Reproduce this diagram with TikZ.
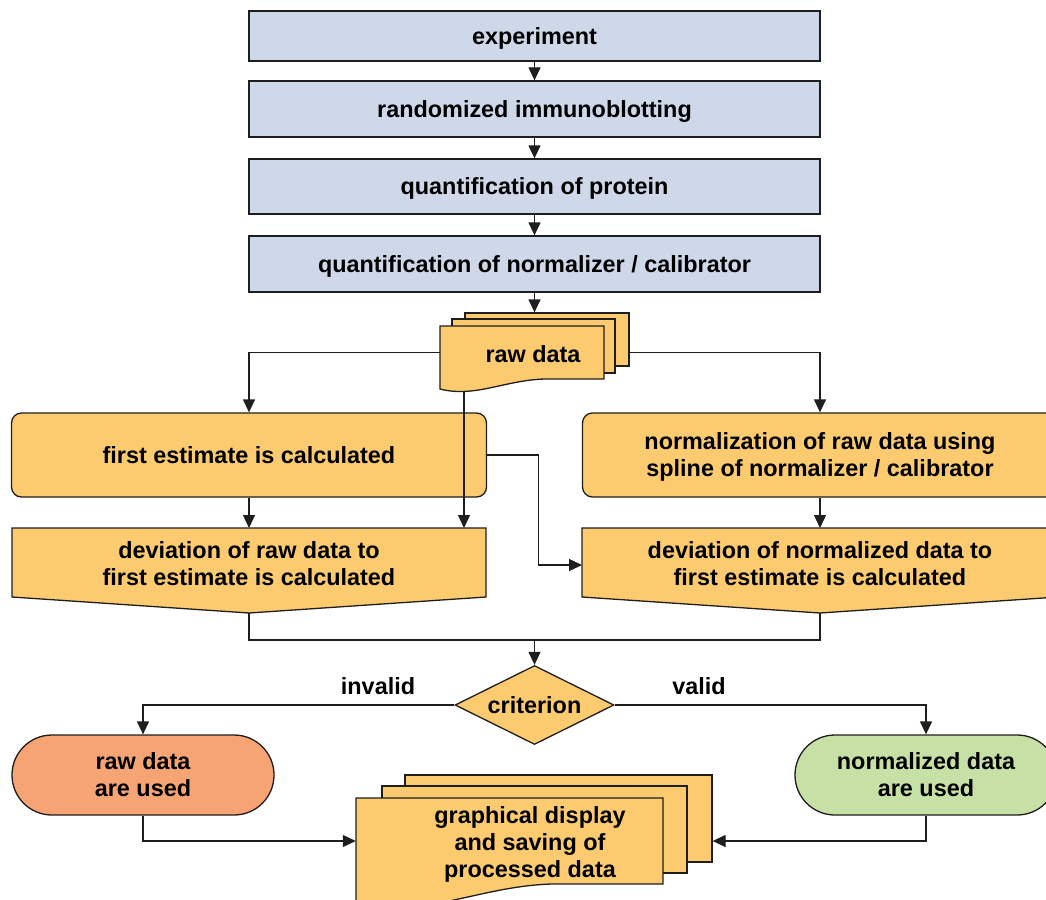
\documentclass[tikz,border=0pt]{standalone}
\usepackage{fontspec}
\setmainfont{Liberation Sans}
\usetikzlibrary{arrows.meta,shapes.geometric,calc}
\definecolor{cblue}{RGB}{207,216,233}
\definecolor{cyel}{RGB}{252,203,111}
\definecolor{csalmon}{RGB}{246,164,116}
\definecolor{cgreen}{RGB}{198,224,166}
\definecolor{cline}{RGB}{30,30,30}
\tikzset{
  base/.style={draw=cline, line width=1.3pt, inner sep=0pt, align=center, text depth=0pt,
    font=\fontsize{23.4}{27}\selectfont\bfseries},
  txt/.style={inner sep=0pt, align=center, text depth=0pt, font=\fontsize{23.4}{27}\selectfont\bfseries},
  bluebox/.style={base, fill=cblue, minimum width=571pt},
  ybox/.style={base, fill=cyel, rounded corners=10pt, minimum width=475pt, minimum height=84pt},
  page/.style={base, fill=cyel},
  docpath/.style={draw=cline, line width=1.3pt, fill=cyel},
  geom/.style={inner sep=0pt},
  term/.style={base, rounded corners=39.9pt, minimum width=262pt, minimum height=80pt},
  arr/.style={draw=cline, line width=1.3pt, -{Triangle[length=13pt,width=12pt]}},
  conn/.style={draw=cline, line width=1.3pt}
}
\begin{document}
\begin{tikzpicture}[x=1pt,y=-1pt]
\useasboundingbox (0,0) rectangle (1046,899);

% top chain
\node[bluebox, minimum height=50pt] (b1) at (534.5,36) {experiment};
\node[bluebox, minimum height=56pt] (b2) at (534.5,109) {randomized immunoblotting};
\node[bluebox, minimum height=55pt] (b3) at (534.5,186.5) {quantification of protein};
\node[bluebox, minimum height=56pt] (b4) at (534.5,264) {quantification of normalizer / calibrator};
\draw[arr] (b1.south) -- (b2.north);
\draw[arr] (b2.south) -- (b3.north);
\draw[arr] (b3.south) -- (b4.north);

% raw data multi-document
\node[page, minimum width=164pt, minimum height=53pt] (rawback) at (547,339.5) {};
\node[page, minimum width=163pt, minimum height=54pt] (rawmid) at (533.5,346) {};
\filldraw[docpath] (440,326) -- (604,326) -- (604,379) -- (545,379)
   .. controls (505,380) and (475,398) .. (440,389) -- cycle;
\node[geom, minimum width=164pt, minimum height=53pt] (rawfront) at (522,352.5) {};
\node[txt] (raw) at (533,354) {raw data};
\coordinate (rawbot) at (464,392);
\draw[arr] (b4.south) -- (b4.south |- rawback.north);

% second level
\node[ybox] (fe) at (249,455) {first estimate is calculated};
\node[ybox] (norm) at (820,455) {normalization of raw data using\\spline of normalizer / calibrator};

% deviation shapes
\filldraw[docpath] (12,528) -- (486,528) -- (486,597) -- (249,613) -- (12,597) -- cycle;
\filldraw[docpath] (582,528) -- (1058,528) -- (1058,597) -- (820,613) -- (582,597) -- cycle;
\node[txt, minimum width=474pt, minimum height=69pt] (devL) at (249,564) {deviation of raw data to\\first estimate is calculated};
\node[txt, minimum width=476pt, minimum height=69pt] (devR) at (820,564) {deviation of normalized data to\\first estimate is calculated};
\coordinate (devLtop) at (249,528);
\coordinate (devRtop) at (820,528);
\coordinate (devLtip) at (249,613);
\coordinate (devRtip) at (820,613);

\draw[arr] (rawfront.west) -| (fe.north);
\draw[arr] (rawback.east |- rawfront.west) -| (norm.north);
\draw[arr] (rawbot) -- (rawbot |- devLtop);
\draw[arr] (fe.south) -- (devLtop);
\draw[arr] (norm.south) -- (devRtop);
\draw[arr] (fe.east) -- ++(51,0) |- (582,565);

% merge and criterion
\node[base, diamond, aspect=2, fill=cyel, minimum width=159pt, minimum height=79pt] (crit) at (534.5,705) {criterion};
\coordinate (merge) at (534.5,640);
\draw[conn] (devLtip) |- (merge) -| (devRtip);
\draw[arr] (merge) -- (crit.north);

\node[term, fill=csalmon] (rawused) at (143,775) {raw data\\are used};
\node[term, fill=cgreen] (normused) at (926,775) {normalized data\\are used};
\draw[arr] (crit.west) -| (rawused.north);
\draw[arr] (crit.east) -| (normused.north);
\node[txt] (linv) at (378,686) {invalid};
\node[txt] (lval) at (699,686) {valid};

% graphical display multi-document
\node[page, minimum width=307pt, minimum height=87pt] (gback) at (558.5,818.5) {};
\node[page, minimum width=305pt, minimum height=87pt] (gmid) at (534.5,829.5) {};
\filldraw[docpath] (356,798) -- (663,798) -- (663,884) -- (552,884)
   .. controls (479,886) and (421,920) .. (356,903) -- cycle;
\node[geom, minimum width=307pt, minimum height=86pt] (gfront) at (509.5,841) {};
\node[txt] (gd) at (530,842) {graphical display\\and saving of\\processed data};

\draw[arr] (rawused.south) |- (gfront.west);
\draw[arr] (normused.south) |- (gback.east |- gfront.west);
\end{tikzpicture}
\end{document}
